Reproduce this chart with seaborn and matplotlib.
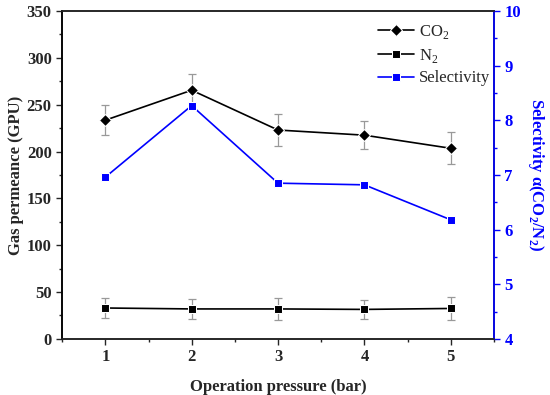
import numpy as np
import pandas as pd
import seaborn as sns
import matplotlib.pyplot as plt
from matplotlib.ticker import MultipleLocator

pressure = [1, 2, 3, 4, 5]
co2 = [233.5, 265.5, 223.0, 217.5, 203.5]
co2_err = [16, 17, 17, 15, 17]
n2 = [33.0, 32.0, 32.0, 31.5, 32.5]
n2_err = [10.5, 11, 11.5, 10.5, 12]
selectivity = [6.96, 8.27, 6.85, 6.82, 6.18]

sns.set_style("ticks")
plt.rcParams['font.family'] = ['Liberation Serif', 'DejaVu Serif']
plt.rcParams['mathtext.fontset'] = 'custom'
plt.rcParams['mathtext.rm'] = 'Liberation Serif'
plt.rcParams['mathtext.bf'] = 'Liberation Serif:bold'

df = pd.DataFrame({"pressure": pressure, "co2": co2, "n2": n2, "sel": selectivity})

fig, ax = plt.subplots(figsize=(5.5, 3.95), dpi=100)
fig.subplots_adjust(left=0.113, right=0.898, top=0.972, bottom=0.142)

ax.errorbar(pressure, co2, yerr=co2_err, fmt="none", ecolor="#999999", elinewidth=0.9, capsize=3, capthick=0.9)
ax.errorbar(pressure, n2, yerr=n2_err, fmt="none", ecolor="#999999", elinewidth=0.9, capsize=3, capthick=0.9)
sns.lineplot(data=df, x="pressure", y="co2", ax=ax, color="black", marker="D", markersize=6,
             linewidth=1.2, label="CO$_2$", legend=False)
sns.lineplot(data=df, x="pressure", y="n2", ax=ax, color="black", marker="s", markersize=6,
             linewidth=1.2, label="N$_2$", legend=False)

ax2 = ax.twinx()
sns.lineplot(data=df, x="pressure", y="sel", ax=ax2, color="blue", marker="s", markersize=6,
             linewidth=1.2, label="Selectivity", legend=False)

ax.set_xlim(0.5, 5.5)
ax.set_ylim(0, 350)
ax2.set_ylim(4, 10)
ax.set_xticks(pressure)
ax.xaxis.set_minor_locator(MultipleLocator(0.5))
ax.yaxis.set_minor_locator(MultipleLocator(25))
ax2.yaxis.set_minor_locator(MultipleLocator(0.5))

ax.set_xlabel("Operation pressure (bar)", fontsize=12, fontweight="bold", labelpad=10)
ax.set_ylabel("Gas permeance (GPU)", fontsize=12, fontweight="bold", labelpad=2)
ax2.set_ylabel("Selectivity α(CO$_\\mathbf{2}$/N$_\\mathbf{2}$)", fontsize=12, fontweight="bold", color="blue",
               rotation=270, labelpad=18)

for lab in ax.get_xticklabels() + ax.get_yticklabels():
    lab.set_fontweight("bold")
for lab in ax2.get_yticklabels():
    lab.set_fontweight("bold")
    lab.set_color("blue")
ax.tick_params(labelsize=12, width=1, length=4, direction="out")
ax.tick_params(which="minor", length=2.5, width=1)
ax2.tick_params(labelsize=12, width=1, length=4, colors="blue")
ax2.tick_params(which="minor", length=2.5, width=1, colors="blue")
for s in ax.spines.values():
    s.set_linewidth(1.2)
for s in ax2.spines.values():
    s.set_linewidth(1.2)
ax2.spines["right"].set_color("blue")
ax2.spines["left"].set_color("black")

h1, lab1 = ax.get_legend_handles_labels()
h2, lab2 = ax2.get_legend_handles_labels()
ax2.legend(h1 + h2, lab1 + lab2, loc="upper right", frameon=False, fontsize=12,
           handlelength=2.2, bbox_to_anchor=(1.027, 1.01), labelspacing=0.35, handletextpad=0.3)

fig.savefig("out.png", dpi=100)
